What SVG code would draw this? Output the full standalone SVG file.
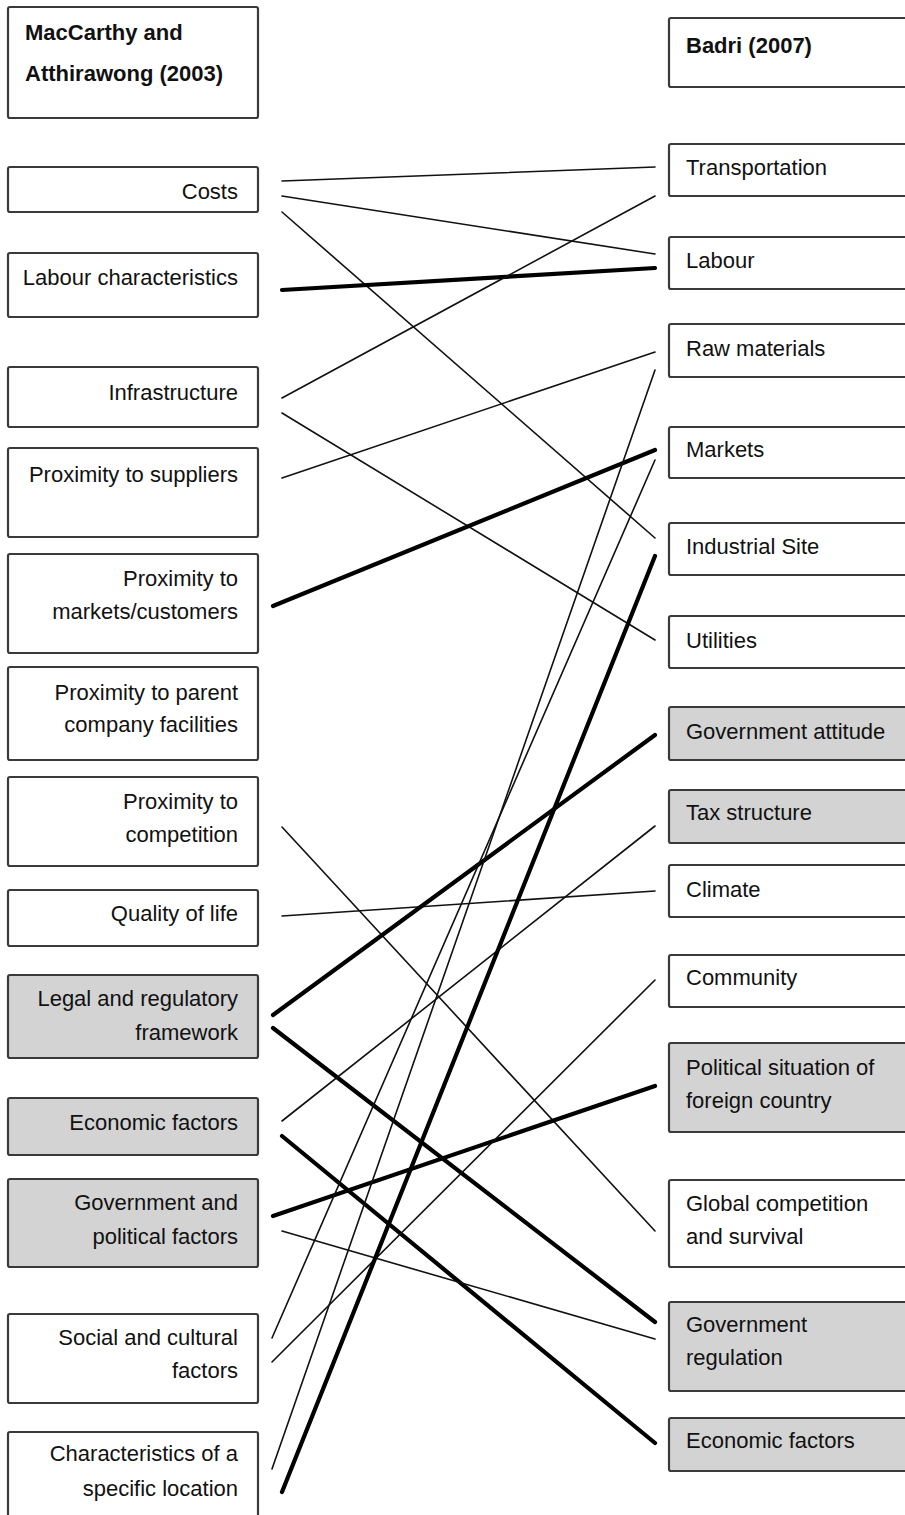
<svg xmlns="http://www.w3.org/2000/svg" width="905" height="1515" viewBox="0 0 905 1515">
<style>
.box{fill:#ffffff;stroke:#3a3a3a;stroke-width:2.2}
.grey{fill:#d3d3d3;stroke:#3a3a3a;stroke-width:2.2}
text{font-family:"Liberation Sans",Arial,sans-serif;font-size:22px;fill:#111}
.l{text-anchor:end}
.b{font-weight:bold}
.thin{stroke:#111;stroke-width:1.6;fill:none;stroke-linecap:round}
.thick{stroke:#000;stroke-width:4.2;fill:none;stroke-linecap:round}
</style>
<rect width="905" height="1515" fill="#ffffff"/>
<g id="connectors">
<line class="thin" x1="282" y1="181" x2="655" y2="167"/>
<line class="thin" x1="282" y1="196" x2="655" y2="254"/>
<line class="thin" x1="282" y1="212" x2="655" y2="538"/>
<line class="thick" x1="282" y1="290" x2="655" y2="268"/>
<line class="thin" x1="282" y1="398" x2="655" y2="196"/>
<line class="thin" x1="282" y1="413" x2="655" y2="640"/>
<line class="thin" x1="282" y1="478" x2="655" y2="352"/>
<line class="thick" x1="273" y1="606" x2="655" y2="450"/>
<line class="thin" x1="282" y1="827" x2="655" y2="1231"/>
<line class="thin" x1="282" y1="916" x2="655" y2="891"/>
<line class="thick" x1="273" y1="1015" x2="655" y2="735"/>
<line class="thick" x1="273" y1="1028" x2="655" y2="1322"/>
<line class="thin" x1="282" y1="1121" x2="655" y2="826"/>
<line class="thick" x1="282" y1="1136" x2="655" y2="1443"/>
<line class="thick" x1="273" y1="1216" x2="655" y2="1086"/>
<line class="thin" x1="282" y1="1231" x2="655" y2="1339"/>
<line class="thin" x1="272" y1="1338" x2="655" y2="460"/>
<line class="thin" x1="272" y1="1362" x2="655" y2="980"/>
<line class="thin" x1="272" y1="1469" x2="655" y2="370"/>
<line class="thick" x1="282" y1="1492" x2="655" y2="556"/>
</g>
<g id="left-header"><rect class="box" x="8" y="7" width="250" height="111" rx="2"/><text class="b" x="25" y="40">MacCarthy and</text><text class="b" x="25" y="81">Atthirawong (2003)</text></g>
<g id="left-costs"><rect class="box" x="8" y="167" width="250" height="45" rx="2"/><text class="l" x="238" y="199">Costs</text></g>
<g id="left-labour"><rect class="box" x="8" y="253" width="250" height="64" rx="2"/><text class="l" x="238" y="285">Labour characteristics</text></g>
<g id="left-infrastructure"><rect class="box" x="8" y="367" width="250" height="60" rx="2"/><text class="l" x="238" y="400">Infrastructure</text></g>
<g id="left-suppliers"><rect class="box" x="8" y="448" width="250" height="89" rx="2"/><text class="l" x="238" y="482">Proximity to suppliers</text></g>
<g id="left-markets"><rect class="box" x="8" y="554" width="250" height="99" rx="2"/><text class="l" x="238" y="586">Proximity to</text><text class="l" x="238" y="619">markets/customers</text></g>
<g id="left-parent"><rect class="box" x="8" y="667" width="250" height="93" rx="2"/><text class="l" x="238" y="700">Proximity to parent</text><text class="l" x="238" y="732">company facilities</text></g>
<g id="left-competition"><rect class="box" x="8" y="777" width="250" height="89" rx="2"/><text class="l" x="238" y="809">Proximity to</text><text class="l" x="238" y="842">competition</text></g>
<g id="left-quality"><rect class="box" x="8" y="890" width="250" height="56" rx="2"/><text class="l" x="238" y="921">Quality of life</text></g>
<g id="left-legal"><rect class="grey" x="8" y="975" width="250" height="83" rx="2"/><text class="l" x="238" y="1006">Legal and regulatory</text><text class="l" x="238" y="1040">framework</text></g>
<g id="left-economic"><rect class="grey" x="8" y="1098" width="250" height="57" rx="2"/><text class="l" x="238" y="1130">Economic factors</text></g>
<g id="left-government"><rect class="grey" x="8" y="1179" width="250" height="88" rx="2"/><text class="l" x="238" y="1210">Government and</text><text class="l" x="238" y="1244">political factors</text></g>
<g id="left-social"><rect class="box" x="8" y="1314" width="250" height="89" rx="2"/><text class="l" x="238" y="1345">Social and cultural</text><text class="l" x="238" y="1378">factors</text></g>
<g id="left-location"><rect class="box" x="8" y="1432" width="250" height="100" rx="2"/><text class="l" x="238" y="1461">Characteristics of a</text><text class="l" x="238" y="1496">specific location</text></g>
<g id="right-header"><rect class="box" x="669" y="18" width="250" height="69" rx="2"/><text class="b" x="686" y="53">Badri (2007)</text></g>
<g id="right-transportation"><rect class="box" x="669" y="144" width="250" height="52" rx="2"/><text x="686" y="175">Transportation</text></g>
<g id="right-labour"><rect class="box" x="669" y="237" width="250" height="52" rx="2"/><text x="686" y="268">Labour</text></g>
<g id="right-raw"><rect class="box" x="669" y="324" width="250" height="53" rx="2"/><text x="686" y="356">Raw materials</text></g>
<g id="right-markets"><rect class="box" x="669" y="427" width="250" height="51" rx="2"/><text x="686" y="457">Markets</text></g>
<g id="right-site"><rect class="box" x="669" y="523" width="250" height="52" rx="2"/><text x="686" y="554">Industrial Site</text></g>
<g id="right-utilities"><rect class="box" x="669" y="616" width="250" height="52" rx="2"/><text x="686" y="648">Utilities</text></g>
<g id="right-govattitude"><rect class="grey" x="669" y="707" width="250" height="53" rx="2"/><text x="686" y="739">Government attitude</text></g>
<g id="right-tax"><rect class="grey" x="669" y="790" width="250" height="53" rx="2"/><text x="686" y="820">Tax structure</text></g>
<g id="right-climate"><rect class="box" x="669" y="865" width="250" height="52" rx="2"/><text x="686" y="897">Climate</text></g>
<g id="right-community"><rect class="box" x="669" y="955" width="250" height="52" rx="2"/><text x="686" y="985">Community</text></g>
<g id="right-political"><rect class="grey" x="669" y="1043" width="250" height="89" rx="2"/><text x="686" y="1075">Political situation of</text><text x="686" y="1108">foreign country</text></g>
<g id="right-global"><rect class="box" x="669" y="1180" width="250" height="87" rx="2"/><text x="686" y="1211">Global competition</text><text x="686" y="1244">and survival</text></g>
<g id="right-govregulation"><rect class="grey" x="669" y="1302" width="250" height="89" rx="2"/><text x="686" y="1332">Government</text><text x="686" y="1365">regulation</text></g>
<g id="right-economic"><rect class="grey" x="669" y="1418" width="250" height="53" rx="2"/><text x="686" y="1448">Economic factors</text></g>
</svg>
